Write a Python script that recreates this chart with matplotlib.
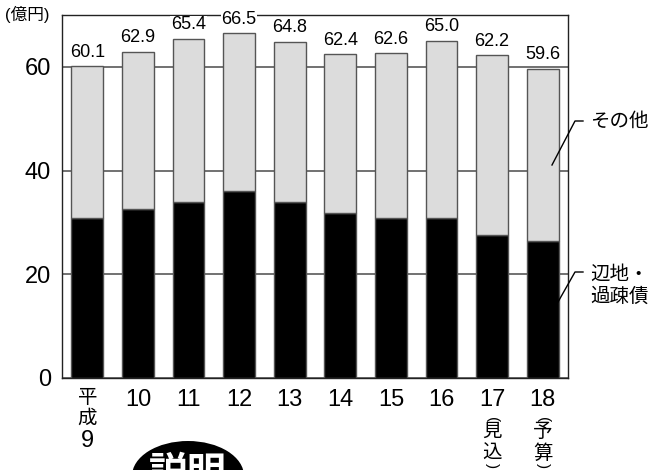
import numpy as np
import matplotlib.pyplot as plt
from matplotlib.patches import Ellipse
from matplotlib.lines import Line2D

years = ["9", "10", "11", "12", "13", "14", "15", "16", "17", "18"]
era = "平成"
notes = {8: "見込", 9: "予算"}
total = [60.1, 62.9, 65.4, 66.5, 64.8, 62.4, 62.6, 65.0, 62.2, 59.6]
henchi = [30.9, 32.6, 34.0, 36.1, 34.0, 31.8, 30.8, 30.8, 27.6, 26.5]
other = [t - h for t, h in zip(total, henchi)]

FONT = ['Liberation Sans', 'Noto Sans CJK JP']
plt.rcParams['font.family'] = FONT

W, H = 665, 470
fig = plt.figure(figsize=(W / 100, H / 100), dpi=100)
ax = fig.add_axes([62 / W, 1 - 378 / H, 506 / W, 363 / H])

def px(x, y):
    return x / W, 1 - y / H

x = np.arange(len(years))
ax.bar(x, henchi, width=0.63, color='black', edgecolor='#555555', linewidth=1, zorder=2)
ax.bar(x, other, bottom=henchi, width=0.63, color='#dcdcdc', edgecolor='#555555',
       linewidth=1, zorder=2)

for i, t in enumerate(total):
    ax.annotate(f"{t:.1f}", (x[i], t), xytext=(0, 4), textcoords='offset points',
                ha='center', va='bottom', fontsize=13,
                bbox=dict(facecolor='white', edgecolor='none', pad=0.5), zorder=5)

ax.set_xlim(-0.5, len(years) - 0.5)
ax.set_ylim(0, 70)
ax.set_yticks([0, 20, 40, 60])
ax.tick_params(axis='y', length=0, pad=8, labelsize=17)
ax.set_xticks(x)
ax.set_xticklabels([""] + years[1:], fontsize=17)
ax.tick_params(axis='x', length=0, pad=8)
ax.grid(axis='y', color='#666666', linewidth=1.3, zorder=0)
ax.set_axisbelow(True)
for s in ax.spines.values():
    s.set_linewidth(1.0)
    s.set_color('#222222')

trans = ax.get_xaxis_transform()
def below(i, text, dy, size, rot=0):
    # dy: pixels below the axes bottom (text centre)
    ax.annotate(text, (x[i], 0), xycoords=trans, xytext=(0, -dy * 0.72),
                textcoords='offset points', ha='center', va='center',
                fontsize=size, rotation=rot, rotation_mode='anchor',
                annotation_clip=False)

# 平成9 stacked vertically under the first bar
below(0, era[0], 20, 14)
below(0, era[1], 41, 14)
below(0, years[0], 63, 17)
# (見込) (予算) written vertically
for i, n in notes.items():
    below(i, "(", 42, 11, rot=-90)
    below(i, n[0], 54, 14)
    below(i, n[1], 76, 14)
    below(i, ")", 88, 11, rot=-90)

fig.text(*px(5, 14), "(億円)", ha='left', va='center', fontsize=12)

# leader lines and labels
for pts in ([(552, 165), (575, 121), (583, 121)], [(558, 302), (575, 272), (583, 272)]):
    xs, ys = zip(*[px(a, b) for a, b in pts])
    fig.add_artist(Line2D(xs, ys, color='black', linewidth=1, transform=fig.transFigure))
fig.text(*px(590, 122), "その他", ha='left', va='center', fontsize=14)
fig.text(*px(590, 286), "辺地・\n過疎債", ha='left', va='center', fontsize=14, linespacing=1.25)

fig.add_artist(Ellipse(px(188, 476), 112 / W, 70 / H, transform=fig.transFigure,
                       facecolor='black', edgecolor='none'))
fig.text(*px(188, 474), "説明", ha='center', va='center', fontsize=28,
         fontweight='bold', color='white')

fig.savefig('out.png', dpi=100)
